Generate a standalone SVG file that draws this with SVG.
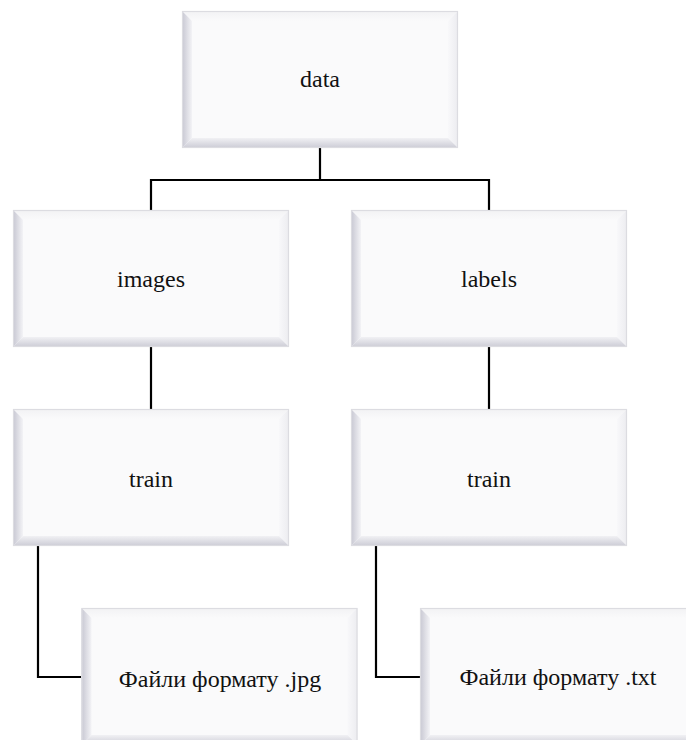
<svg xmlns="http://www.w3.org/2000/svg" xmlns:xlink="http://www.w3.org/1999/xlink" width="686" height="740" viewBox="0 0 686 740">
  <style>
    .wire { fill: none; stroke: #000; stroke-width: 2.2; }
  </style>
  <defs>
    <linearGradient id="bevL" x1="0" y1="0" x2="1" y2="0">
      <stop offset="0" stop-color="#c7c7d2"/>
      <stop offset="1" stop-color="#f3f3f6"/>
    </linearGradient>
    <linearGradient id="bevB" x1="0" y1="0" x2="0" y2="1">
      <stop offset="0" stop-color="#f1f1f4"/>
      <stop offset="1" stop-color="#cbcbd5"/>
    </linearGradient>
    <linearGradient id="bevT" x1="0" y1="0" x2="0" y2="1">
      <stop offset="0" stop-color="#f2f2f4"/>
      <stop offset="1" stop-color="#fafafb"/>
    </linearGradient>
    <linearGradient id="bevR" x1="0" y1="0" x2="1" y2="0">
      <stop offset="0" stop-color="#f8f8fa"/>
      <stop offset="1" stop-color="#ececf0"/>
    </linearGradient>
    <!-- bevelled box, 276 x 137 -->
    <symbol id="box" viewBox="0 0 276 137" overflow="visible">
      <rect x="0" y="0" width="276" height="137" fill="#fafafb"/>
      <polygon points="0,0 276,0 266,10 10,10" fill="url(#bevT)"/>
      <polygon points="276,0 276,137 266,127 266,10" fill="url(#bevR)"/>
      <polygon points="0,137 276,137 266,127 10,127" fill="url(#bevB)"/>
      <polygon points="0,0 10,10 10,127 0,137" fill="url(#bevL)"/>
      <rect x="0.5" y="0.5" width="275" height="136" fill="none" stroke="#dcdce1" stroke-width="1.2"/>
    </symbol>
  </defs>
  <rect width="686" height="740" fill="#ffffff"/>

  <g id="connectors">
    <path class="wire" d="M320,147 V180 M151,180 H489 M151,179 V210 M489,179 V210"/>
    <path class="wire" d="M151,347 V409"/>
    <path class="wire" d="M489,347 V409"/>
    <path class="wire" d="M38,546 V677 H81"/>
    <path class="wire" d="M376,546 V677 H420"/>
  </g>

  <g id="data">
    <use xlink:href="#box" x="182" y="11" width="276" height="137"/>
    <text x="320" y="87" font-family="Liberation Serif" font-size="24" fill="#111" text-anchor="middle">data</text>
  </g>
  <g id="images">
    <use xlink:href="#box" x="13" y="210" width="276" height="137"/>
    <text x="151" y="287" font-family="Liberation Serif" font-size="24" fill="#111" text-anchor="middle">images</text>
  </g>
  <g id="labels">
    <use xlink:href="#box" x="351" y="210" width="276" height="137"/>
    <text x="489" y="287" font-family="Liberation Serif" font-size="24" fill="#111" text-anchor="middle">labels</text>
  </g>
  <g id="train-images">
    <use xlink:href="#box" x="13" y="409" width="276" height="137"/>
    <text x="151" y="487" font-family="Liberation Serif" font-size="24" fill="#111" text-anchor="middle">train</text>
  </g>
  <g id="train-labels">
    <use xlink:href="#box" x="351" y="409" width="276" height="137"/>
    <text x="489" y="487" font-family="Liberation Serif" font-size="24" fill="#111" text-anchor="middle">train</text>
  </g>
  <g id="files-jpg">
    <use xlink:href="#box" x="81" y="608" width="277" height="137"/>
    <text x="220" y="687" font-family="Liberation Serif" font-size="24" fill="#111" text-anchor="middle">Файли формату .jpg</text>
  </g>
  <g id="files-txt">
    <use xlink:href="#box" x="420" y="608" width="276" height="137"/>
    <text x="558" y="685" font-family="Liberation Serif" font-size="24" fill="#111" text-anchor="middle">Файли формату .txt</text>
  </g>
</svg>
